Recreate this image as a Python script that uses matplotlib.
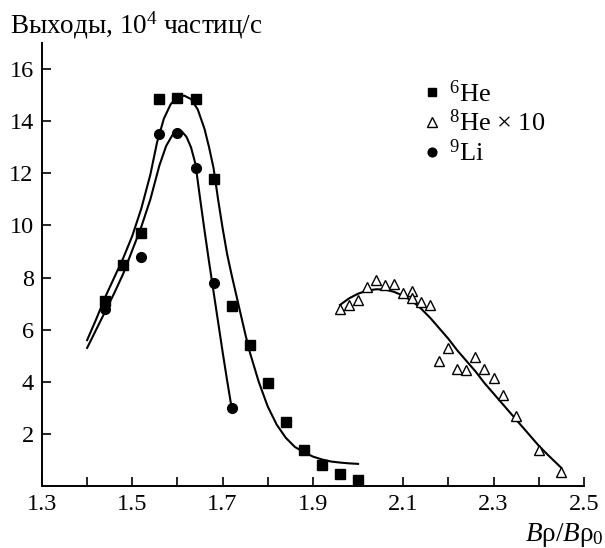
import matplotlib
matplotlib.use('Agg')
import matplotlib.pyplot as plt

# measured points
he6_x = [1.44, 1.48, 1.52, 1.56, 1.60, 1.64, 1.68, 1.72, 1.76, 1.80, 1.84, 1.88, 1.92, 1.96, 2.00]
he6_y = [7.1, 8.5, 9.7, 14.85, 14.9, 14.85, 11.8, 6.9, 5.4, 3.95, 2.45, 1.4, 0.8, 0.45, 0.25]

li9_x = [1.44, 1.52, 1.56, 1.60, 1.64, 1.68, 1.72]
li9_y = [6.8, 8.8, 13.5, 13.55, 12.2, 7.8, 3.0]

he8_x = [1.96, 1.98, 2.00, 2.02, 2.04, 2.06, 2.08, 2.10, 2.12, 2.12, 2.14, 2.16,
         2.18, 2.20, 2.22, 2.24, 2.26, 2.28, 2.30, 2.32, 2.35, 2.40, 2.45]
he8_y = [6.8, 6.95, 7.15, 7.65, 7.9, 7.7, 7.75, 7.4, 7.5, 7.2, 7.05, 6.95,
         4.8, 5.3, 4.5, 4.45, 4.95, 4.5, 4.15, 3.5, 2.7, 1.4, 0.55]

# fitted curves
he6_cx = [1.40, 1.42, 1.44, 1.46, 1.48, 1.50, 1.52, 1.54, 1.555, 1.57, 1.585, 1.60,
          1.615, 1.63, 1.645, 1.66, 1.67, 1.68, 1.69, 1.70, 1.71, 1.72, 1.73, 1.74,
          1.75, 1.76, 1.78, 1.80, 1.82, 1.84, 1.86, 1.88, 1.90, 1.92, 1.94, 1.96,
          1.98, 2.00]
he6_cy = [5.6, 6.4, 7.25, 8.0, 8.75, 9.6, 10.65, 11.95, 13.2, 14.1, 14.65, 14.93,
          14.98, 14.85, 14.45, 13.7, 13.0, 12.2, 11.0, 9.9, 8.9, 8.1, 7.35, 6.6,
          5.85, 5.15, 4.0, 3.05, 2.35, 1.85, 1.5, 1.3, 1.13, 1.02, 0.94, 0.9,
          0.87, 0.85]

li9_cx = [1.40, 1.42, 1.44, 1.46, 1.48, 1.50, 1.52, 1.54, 1.56, 1.575, 1.59, 1.60,
          1.61, 1.62, 1.63, 1.64, 1.65, 1.66, 1.67, 1.68, 1.69, 1.70, 1.71, 1.72]
li9_cy = [5.3, 6.0, 6.7, 7.4, 8.15, 9.05, 9.95, 11.0, 12.3, 13.05, 13.5, 13.62,
          13.6, 13.4, 13.0, 12.35, 11.05, 9.8, 8.6, 7.45, 6.3, 5.15, 4.05, 3.0]

he8_cx = [1.96, 1.98, 2.00, 2.02, 2.04, 2.06, 2.08, 2.10, 2.12, 2.14, 2.16, 2.18, 2.20,
          2.22, 2.24, 2.26, 2.28, 2.30, 2.32, 2.34, 2.36, 2.38, 2.40, 2.42, 2.45]
he8_cy = [6.95, 7.2, 7.38, 7.5, 7.55, 7.54, 7.45, 7.3, 7.1, 6.8, 6.45, 6.05, 5.65,
          5.2, 4.8, 4.4, 3.95, 3.55, 3.15, 2.75, 2.35, 1.95, 1.55, 1.2, 0.7]

x_ticks = [1.3, 1.4, 1.5, 1.6, 1.7, 1.8, 1.9, 2.0, 2.1, 2.2, 2.3, 2.4, 2.5]
x_labels = ['1.3', '', '1.5', '', '1.7', '', '1.9', '', '2.1', '', '2.3', '', '2.5']
y_ticks = [2, 4, 6, 8, 10, 12, 14, 16]

plt.rcParams['font.family'] = ['Liberation Serif', 'DejaVu Serif']
plt.rcParams['mathtext.fontset'] = 'custom'
plt.rcParams['mathtext.rm'] = 'Liberation Serif'
plt.rcParams['mathtext.it'] = 'Liberation Serif:italic'

fig = plt.figure(figsize=(6.05, 5.48), dpi=100)
ax = fig.add_axes([0.0694, 0.1131, 0.8956, 0.8084])

ax.plot(he6_cx, he6_cy, color='black', lw=1.5)
ax.plot(li9_cx, li9_cy, color='black', lw=1.5)
ax.plot(he8_cx, he8_cy, color='black', lw=1.5)

ax.plot(he6_x, he6_y, 's', color='black', ms=7, label='$^{6}$He')
ax.plot(he8_x, he8_y, '^', mfc='white', mec='black', mew=1.0, ms=7.5, label='$^{8}$He × 10')
ax.plot(li9_x, li9_y, 'o', color='black', ms=7, label='$^{9}$Li')

ax.set_xlim(1.3, 2.5)
ax.set_ylim(0, 17)
ax.set_xticks(x_ticks)
ax.set_xticklabels(x_labels)
ax.set_yticks(y_ticks)

for s in ['top', 'right']:
    ax.spines[s].set_visible(False)
for s in ['left', 'bottom']:
    ax.spines[s].set_linewidth(1.4)
ax.tick_params(direction='in', length=6.5, width=1.2, labelsize=17.5, pad=6)

ax.legend(loc='upper left', bbox_to_anchor=(0.685, 0.94), frameon=False, fontsize=19,
          handlelength=0.6, handletextpad=0.35, labelspacing=0.12, borderaxespad=0,
          markerscale=0.9)

fig.text(0.016, 0.94, 'Выходы, 10$^4$ частиц/с', fontsize=19.5, va='baseline')
fig.text(0.998, 0.013, '$B$ρ/$B$ρ$_0$', fontsize=19.5, ha='right', va='baseline')

fig.savefig('out.png', dpi=100)
